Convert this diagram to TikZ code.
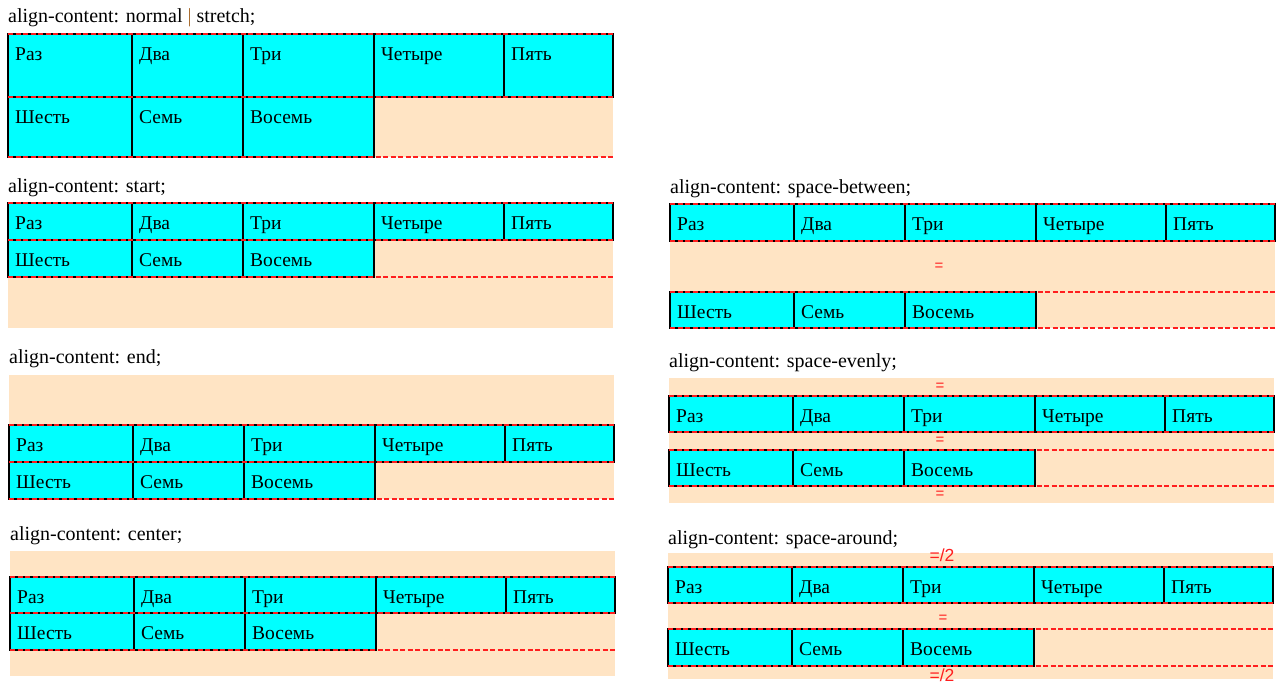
\documentclass[tikz,border=0pt]{standalone}
\usepackage{fontspec}
\setmainfont{Liberation Serif}
\newfontfamily\eqfont{Liberation Sans}
\usetikzlibrary{positioning}
\definecolor{itemcyan}{RGB}{0,255,255}
\definecolor{boxbisque}{RGB}{255,228,196}
\definecolor{pipe}{RGB}{170,110,50}
\definecolor{lineRed}{RGB}{255,30,30}

\begin{document}
\begin{tikzpicture}[x=1pt, y=-1pt,
  title/.style = {anchor=base west, inner sep=0pt,
    font=\fontsize{20}{24}\selectfont},
  item/.style = {draw=black, line width=1.3pt, fill=itemcyan,
    anchor=north west, inner sep=0pt, outer sep=0pt},
  lbl/.style = {anchor=base west, inner sep=0pt, xshift=7pt, yshift=-26.5pt,
    font=\fontsize{19.5}{23}\selectfont},
  rowline/.style = {draw=lineRed, line width=2pt,
    dash pattern=on 5pt off 2.5pt},
  eq/.style = {text=lineRed, inner sep=0pt, font=\eqfont\fontsize{15}{17}\selectfont},
  eqhalf/.style = {eq, font=\eqfont\fontsize{17.5}{20}\selectfont}]
  \useasboundingbox (0,0) rectangle (1278,684);
  \foreach \p/\x/\ty/\ct/\cb/\ra/\rb/\rc/\rd/\ttl in {
      A/8/23/34/157/34/97/97/157/{normal \textcolor{pipe}{|} stretch},
      B/8/193/203/328/203/240/240/277/start,
      C/9/364/375/499/425/462/462/499/end,
      D/10/540/551/676/577/613/613/650/center,
      E/670/194/204/328/204/241/292/328/space-between,
      F/669/368/378/503/396/432/450/486/space-evenly,
      G/668/544/553/679/567/603/629/666/space-around}{
    \fill[boxbisque] (\x,\ct) rectangle (\x+605,\cb);
    \node[title] (\p-t) at (\x,\ty) {align-content: \ttl;};
    \pgfmathsetmacro\ha{\rb-\ra}
    \pgfmathsetmacro\hb{\rd-\rc}
    \foreach \i/\t/\a/\w in {1/Раз/0/124, 2/Два/124/111, 3/Три/235/131,
        4/Четыре/366/130, 5/Пять/496/109}
      \node[item, minimum width=\w pt, minimum height=\ha pt,
        label={[lbl]north west:\t}] (\p-\i) at (\x+\a,\ra) {};
    \foreach \i/\t/\a/\w in {6/Шесть/0/124, 7/Семь/124/111, 8/Восемь/235/131}
      \node[item, minimum width=\w pt, minimum height=\hb pt,
        label={[lbl]north west:\t}] (\p-\i) at (\x+\a,\rc) {};
    \foreach \yy in {\ra,\rb,\rc,\rd}
      \draw[rowline] (\x,\yy) -- ++(605,0);
  }
  % equal gaps
  \node[eq] (E-eq) at (939,267) {=};
  \node[eq] (F-eq1) at (940,387) {=};
  \node[eq] (F-eq2) at (940,441) {=};
  \node[eq] (F-eq3) at (940,495) {=};
  \node[eqhalf] (G-eq1) at (942,555) {=/2};
  \node[eq] (G-eq2) at (943,619) {=};
  \node[eqhalf] (G-eq3) at (942,675) {=/2};
\end{tikzpicture}
\end{document}
